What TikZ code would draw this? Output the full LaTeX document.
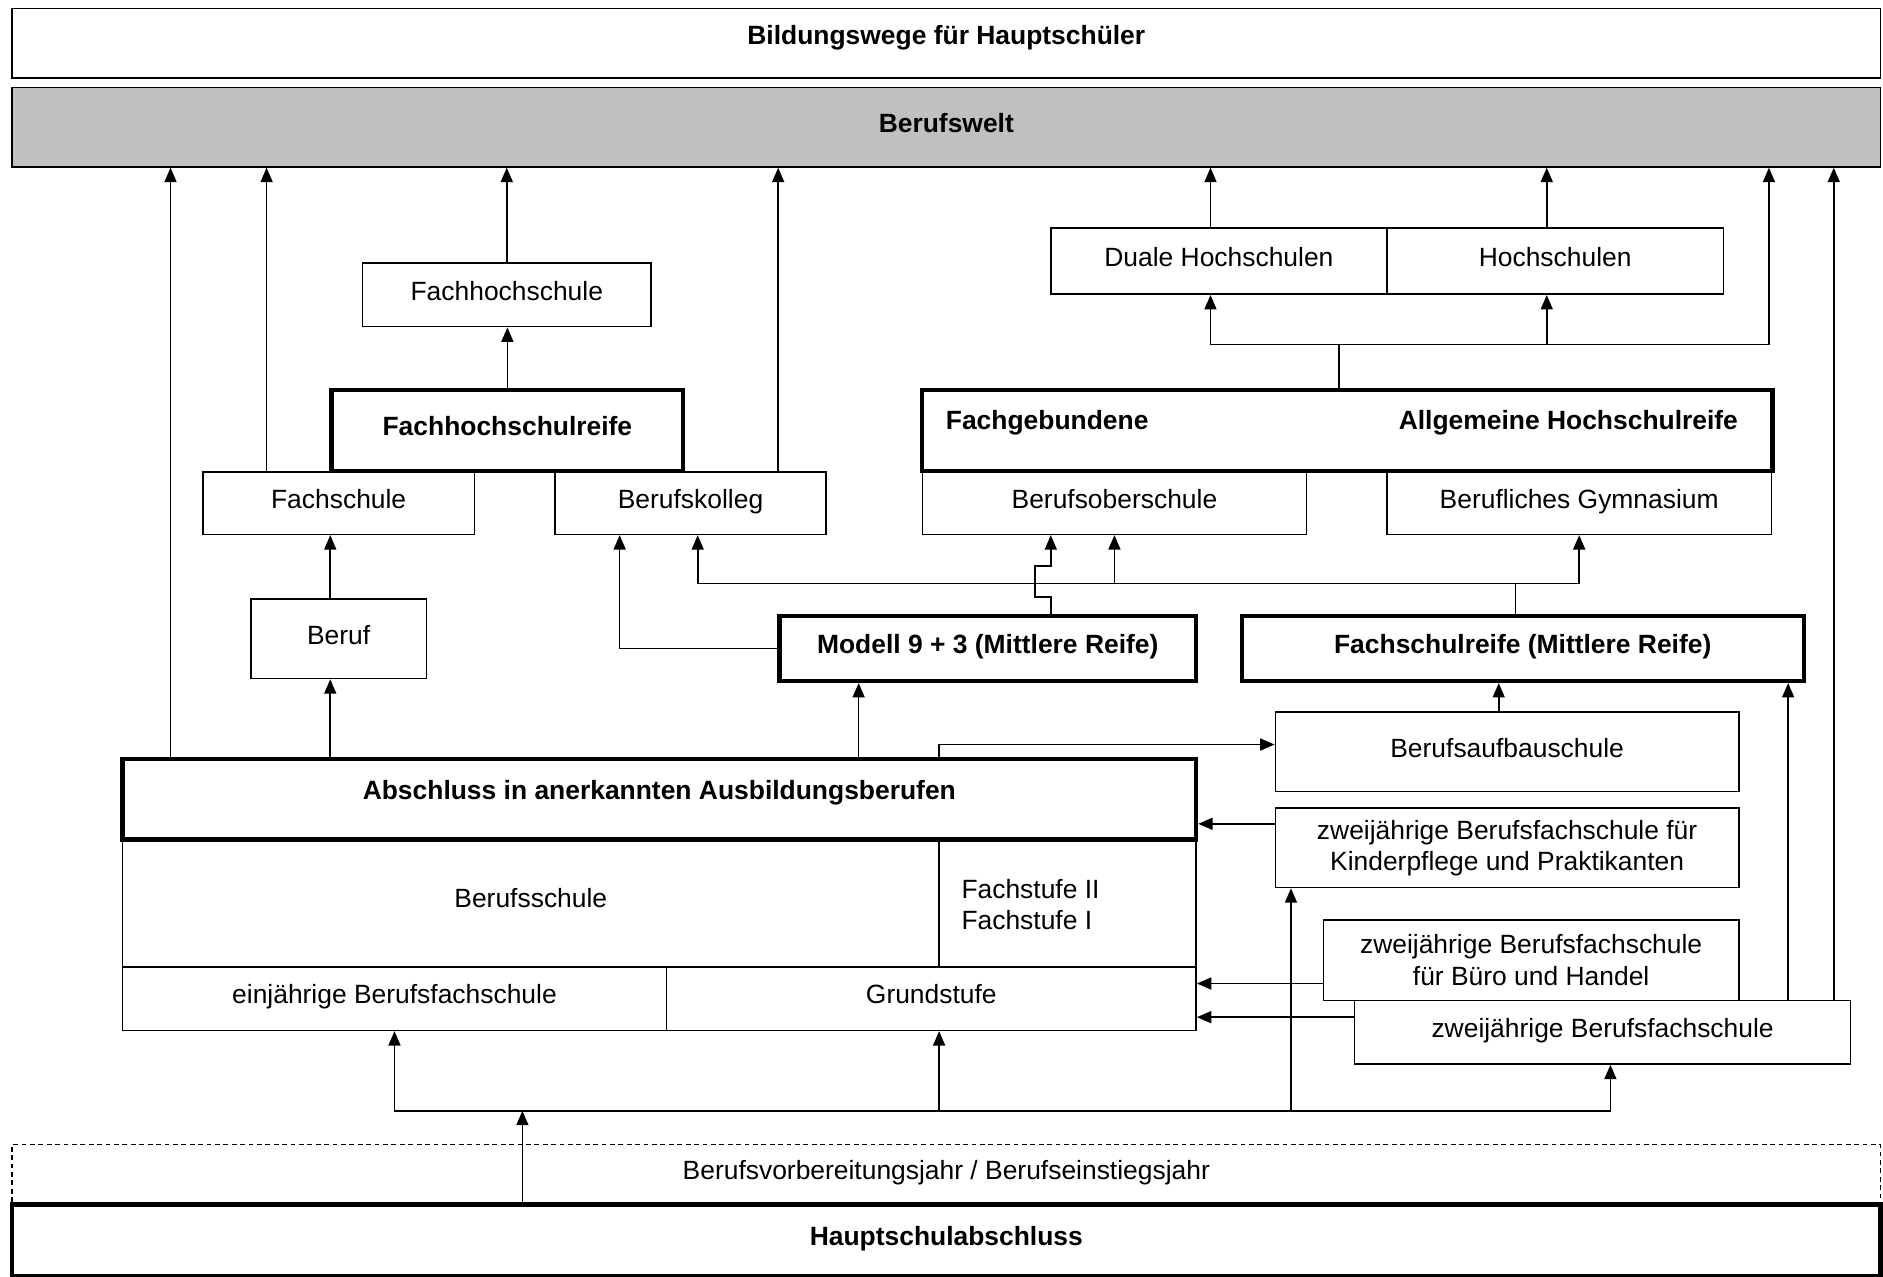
\documentclass[tikz,border=0pt]{standalone}
\usepackage{fontspec}
\setmainfont{Liberation Sans}
\usepackage{tikz}
\usetikzlibrary{arrows.meta, calc}
\definecolor{grau}{RGB}{192,192,192}

\begin{document}
\begin{tikzpicture}[x=0.5pt, y=-0.5pt, line width=0.65pt,
    font=\fontsize{11}{13}\selectfont,
    >={Triangle[length=6pt,width=5pt]},
    kasten/.style={draw, fill=white, inner sep=0pt, text height=7.7pt, text depth=3.3pt},
    kasten2/.style={draw, fill=white, inner sep=0pt, align=center},
    fett/.style={font=\fontsize{11}{13}\selectfont\bfseries},
    dick/.style={kasten, fett, line width=1.8pt}]
    \useasboundingbox (0,0) rectangle (1568,1063);
    % top rows
    \node[kasten, fett, text depth=6.5pt, minimum width=778pt, minimum height=29pt] (titel) at (788,36) {Bildungswege für Hauptschüler};
    \node[kasten, fett, fill=grau, minimum width=778pt, minimum height=33pt] (welt) at (788,106) {Berufswelt};
    % hochschulen
    \node[kasten, minimum width=120pt, minimum height=26.5pt] (fhs) at (422,245.5) {Fachhochschule};
    \node[kasten, minimum width=140pt, minimum height=27.5pt] (dhs) at (1015,217.5) {Duale Hochschulen};
    \node[kasten, minimum width=140pt, minimum height=27.5pt] (hs) at (1295,217.5) {Hochschulen};
    % schulen
    \node[kasten, minimum width=113pt, minimum height=26pt] (fs) at (282,419) {Fachschule};
    \node[kasten, minimum width=113pt, minimum height=26pt] (bk) at (575,419) {Berufskolleg};
    \node[kasten, minimum width=160pt, minimum height=26pt] (bos) at (928,419) {Berufsoberschule};
    \node[kasten, minimum width=160pt, minimum height=26pt] (bg) at (1315,419) {Berufliches Gymnasium};
    \node[dick, minimum width=146.5pt, minimum height=33.5pt] (fhr) at (422.5,358.5) {Fachhochschulreife};
    \node[dick, minimum width=354pt, minimum height=33.5pt] (ahr) at (1122,358.5) {};
    \node[fett] (ahr1) at (872,352) {Fachgebundene};
    \node[fett] (ahr2) at (1306,352) {Allgemeine Hochschulreife};
    % mittlere reife
    \node[kasten, minimum width=73pt, minimum height=33pt] (beruf) at (282,532) {Beruf};
    \node[dick, minimum width=173.5pt, minimum height=27pt] (m93) at (822.5,540) {Modell 9 + 3 (Mittlere Reife)};
    \node[dick, minimum width=234pt, minimum height=27pt] (fsr) at (1268,540) {Fachschulreife (Mittlere Reife)};
    \node[kasten, minimum width=193pt, minimum height=33pt] (bas) at (1255,626) {Berufsaufbauschule};
    % ausbildung
    \node[kasten, minimum width=447pt, minimum height=53pt] (bs) at (549,752) {};
    \node (bs1) at (442,748) {Berufsschule};
    \node[anchor=west, align=left, inner sep=0pt] (fst) at (800,753) {Fachstufe II\\Fachstufe I};
    \node[dick, text depth=7.5pt, minimum width=447pt, minimum height=33.5pt] (abs) at (549,665.5) {Abschluss in anerkannten Ausbildungsberufen};
    \node[kasten, minimum width=226.5pt, minimum height=26.5pt] (ebfs) at (328.5,831.5) {einjährige Berufsfachschule};
    \node[kasten, minimum width=220.5pt, minimum height=26.5pt] (gs) at (775.5,831.5) {Grundstufe};
    % berufsfachschulen
    \node[kasten2, minimum width=193pt, minimum height=33pt] (kp) at (1255,706) {zweijährige Berufsfachschule für\\Kinderpflege und Praktikanten};
    \node[kasten2, minimum width=173pt, minimum height=33.5pt] (bh) at (1275,799.5) {zweijährige Berufsfachschule\\für Büro und Handel};
    \node[kasten, minimum width=206.5pt, minimum height=26.5pt] (zbfs) at (1334.5,859.5) {zweijährige Berufsfachschule};
    % unten
    \node[kasten, dash pattern=on 2pt off 1.5pt, minimum width=778pt, minimum height=25pt] (bvj) at (788,978) {Berufsvorbereitungsjahr / Berufseinstiegsjahr};
    \node[dick, minimum width=778pt, minimum height=30pt] (hsa) at (788,1033) {Hauptschulabschluss};
    \coordinate (j1) at (1115,287);
    \coordinate (j2) at (1262,486);
    \coordinate (j3) at (435,925);
    % arrows to Berufswelt
    \draw[->] (abs.north -| 142,0) -- (welt.south -| 142,0);
    \draw[->] (fs.north -| 222,0) -- (welt.south -| 222,0);
    \draw[->] (fhs.north) -- (fhs.north |- welt.south);
    \draw[->] (bk.north -| 648,0) -- (welt.south -| 648,0);
    \draw[->] (dhs.north -| 1008,0) -- (welt.south -| 1008,0);
    \draw[->] (hs.north -| 1288,0) -- (welt.south -| 1288,0);
    \draw[->] (j1) -| (welt.south -| 1473,0);
    \draw[->] (zbfs.north -| 1527,0) -- (welt.south -| 1527,0);
    % hochschulreife
    \draw (ahr.north -| j1) -- (j1);
    \draw[->] (j1) -| (dhs.south -| 1008,0);
    \draw[->] (j1) -| (hs.south -| 1288,0);
    \draw[->] (fhr.north) -- (fhr.north |- fhs.south);
    % mittlere reife
    \draw[->] (m93.west) -| (bk.south -| 516,0);
    \draw[->] (m93.north -| 875,0) -- ++(0,-14) -- ++(-13,0) -- ++(0,-26) -- ++(13,0) -- (bos.south -| 875,0);
    \draw (fsr.north -| j2) -- (j2);
    \draw[->] (j2) -| (bg.south);
    \draw[->] (j2) -| (bk.south -| 581,0);
    \draw[->] (j2 -| bos.south) -- (bos.south);
    % from Abschluss
    \draw[->] (abs.north -| 275,0) -- (beruf.south -| 275,0);
    \draw[->] (beruf.north -| 275,0) -- (fs.south -| 275,0);
    \draw[->] (abs.north -| 715,0) -- (m93.south -| 715,0);
    \draw[->] (abs.north -| 782,0) |- ([yshift=3pt]bas.west);
    \draw[->] (bas.north -| 1248,0) -- (fsr.south -| 1248,0);
    \draw[->] (zbfs.north -| 1489,0) -- (fsr.south -| 1489,0);
    \draw (abs.south -| 782,0) -- (gs.north -| 782,0);
    % berufsfachschulen
    \draw[->] ([yshift=10pt]kp.west) -- ([yshift=10pt]kp.west -| abs.east);
    \draw[->] ([yshift=-9.75pt]bh.west) -- ([yshift=-9.75pt]bh.west -| gs.east);
    \draw[->] ([yshift=6.25pt]zbfs.west) -- ([yshift=6.25pt]zbfs.west -| gs.east);
    % from Hauptschulabschluss
    \draw[->] (hsa.north -| j3) -- (j3);
    \draw[->] (j3) -| (ebfs.south);
    \draw[->] (j3) -| (zbfs.south -| 1341,0);
    \draw[->] (j3 -| 782,0) -- (gs.south -| 782,0);
    \draw[->] (j3 -| 1075,0) -- (kp.south -| 1075,0);
\end{tikzpicture}
\end{document}
